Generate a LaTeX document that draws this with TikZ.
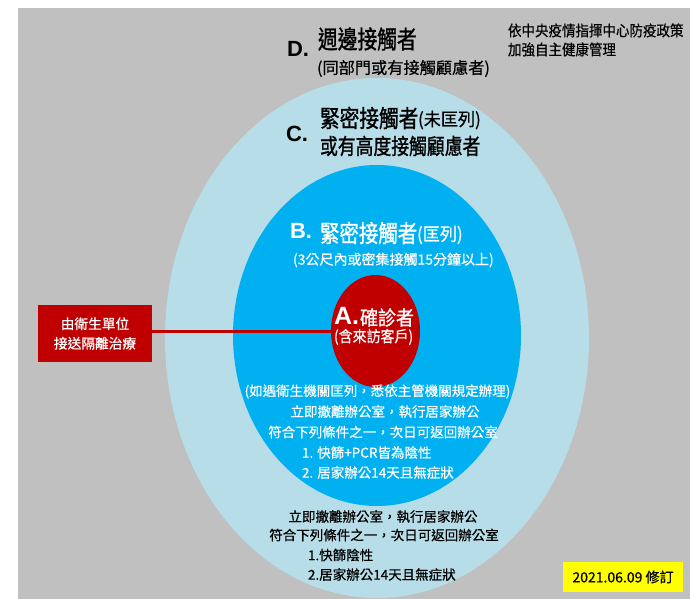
\documentclass[tikz,border=0pt]{standalone}
\usepackage{fontspec}
\usetikzlibrary{shapes.geometric}
\newfontfamily\cjk[FakeBold=0.6]{Noto Sans CJK TC}
\newfontfamily\cjkh[FakeBold=1.2]{Noto Sans CJK TC}
\newfontfamily\lat{Liberation Sans}
\definecolor{bggray}{HTML}{C0C0C0}
\definecolor{ltblue}{HTML}{B7DEE8}
\definecolor{midblue}{HTML}{00B0F0}
\definecolor{darkred}{HTML}{C00000}
\definecolor{tagyellow}{HTML}{FFFF00}
\newcommand\fs[1]{\fontsize{#1}{#1}\selectfont}
\newcommand\hsq[2]{\scalebox{#1}[1]{#2}}
\begin{document}
\begin{tikzpicture}[x=1pt,y=-1pt,
  txt/.style={inner sep=0pt, outer sep=0pt, anchor=west},
  ctxt/.style={inner sep=0pt, outer sep=0pt, anchor=center},
  letter/.style={inner sep=0pt, outer sep=0pt, anchor=west, font=\lat\bfseries\fs{22}},
  small/.style={font=\cjk\fs{13.5}},
  ring/.style={ellipse, inner sep=0pt, draw=none}
  ]
\useasboundingbox (0,0) rectangle (698,599);
\fill[white] (0,0) rectangle (698,599);
\fill[bggray] (18,8) rectangle (690,599);
% rings
\node[ring, fill=ltblue, minimum width=424pt, minimum height=520pt] (C) at (377,338) {};
\node[ring, fill=midblue, minimum width=288pt, minimum height=341pt] (B) at (377,335.5) {};
\node[ring, fill=darkred, minimum width=89pt, minimum height=112pt] (A) at (375.5,331) {};
% D
\node[letter] (Dl) at (287,49) {D.};
\node[txt, font=\cjkh\fs{25}] (Dt) at (318,39) {\hsq{0.79}{週邊接觸者}};
\node[txt, font=\cjk\fs{16.2}] (Ds) at (317,68.5) {(同部門或有接觸顧慮者)};
% note top right
\node[txt, font=\cjk\fs{15}] (N1) at (508,30.5) {\hsq{0.9}{依中央疫情指揮中心防疫政策}};
\node[txt, font=\cjk\fs{15}] (N2) at (508,49.5) {\hsq{0.9}{加強自主健康管理}};
% C
\node[letter] (Cl) at (286,134) {C.};
\node[txt, font=\cjkh\fs{24}] (Ct) at (320,118) {\hsq{0.82}{緊密接觸者}};
\node[txt, font=\cjk\fs{18}] (Cp) at (418,120) {\hsq{0.95}{(未匡列)}};
\node[txt, font=\cjkh\fs{22}] (Cs) at (320,146) {\hsq{0.81}{或有高度接觸顧慮者}};
% B
\node[letter, text=white] (Bl) at (290,231) {B.};
\node[txt, text=white, font=\cjkh\fs{24}] (Bt) at (320,233) {\hsq{0.81}{緊密接觸者}};
\node[txt, text=white, font=\cjk\fs{18}] (Bp) at (417,235) {\hsq{0.95}{(匡列)}};
\node[txt, text=white, font=\cjk\fs{14}] (Bs) at (293,260) {(3公尺內或密集接觸15分鐘以上)};
% A
\node[letter, text=white, font=\lat\bfseries\fs{25}] (Al) at (334,316) {A.};
\node[txt, text=white, font=\cjkh\fs{20}] (At) at (360,317.5) {\hsq{0.9}{確診者}};
\node[txt, text=white, font=\cjk\fs{15.5}] (As) at (334,337) {\hsq{0.9}{(含來訪客戶)}};
% red box
\node[fill=darkred, minimum width=114.5pt, minimum height=56.5pt, inner sep=0pt,
      align=center, text=white, font=\cjk\fontsize{13.7}{19.5}\selectfont] (Rb) at (95,333.5) {由衛生單位\\接送隔離治療};
\draw[darkred, line width=3pt] (Rb.east |- A.west) -- (A.west);
% blue lower text
\node[ctxt, small, text=white] (L1) at (377.5,391.5) {(如遇衛生機關匡列，悉依主管機關規定辦理)};
\node[ctxt, small, text=white] (L2) at (385,411.5) {立即撤離辦公室，執行居家辦公};
\node[ctxt, small, text=white] (L3) at (383,432) {符合下列條件之一，次日可返回辦公室};
\node[txt, small, text=white] (L4) at (302,452.5) {1. 快篩+PCR皆為陰性};
\node[txt, small, text=white] (L5) at (302,472.5) {2. 居家辦公14天且無症狀};
% light blue lower text
\node[ctxt, small] (M1) at (383,516.5) {立即撤離辦公室，執行居家辦公};
\node[ctxt, small] (M2) at (384,535) {符合下列條件之一，次日可返回辦公室};
\node[txt, small] (M3) at (308,555) {1.快篩陰性};
\node[txt, small] (M4) at (308,574.5) {2.居家辦公14天且無症狀};
% date tag
\node[fill=tagyellow, minimum width=120pt, minimum height=30pt, inner sep=0pt, font=\cjk\fs{14}] (Y) at (623,577) {2021.06.09 修訂};
\end{tikzpicture}
\end{document}
